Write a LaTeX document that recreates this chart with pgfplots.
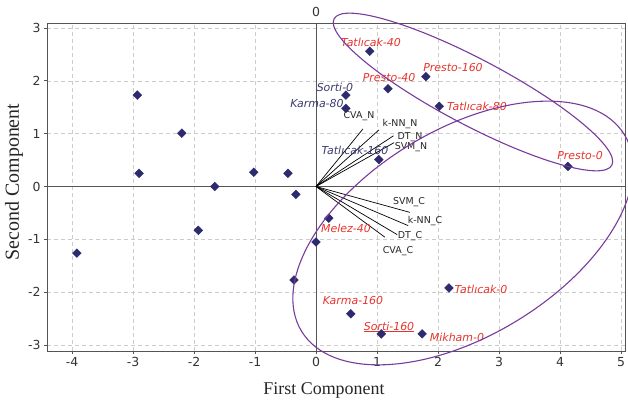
\documentclass[border=0pt]{standalone}
\usepackage{fontspec}
\setmainfont{Liberation Serif}
\newfontfamily\dv{DejaVu Sans}
\usepackage{pgfplots}
\pgfplotsset{compat=1.18}
\definecolor{navy}{RGB}{45,42,110}
\definecolor{lred}{RGB}{230,52,44}
\definecolor{lnavy}{RGB}{60,59,110}
\definecolor{epurple}{RGB}{120,58,155}
\definecolor{frame}{RGB}{85,85,85}
\begin{document}
\begin{tikzpicture}[x=1bp,y=1bp,
  lbl/.style={font=\dv\itshape\fontsize{11}{13}\selectfont, text=lred, inner sep=0pt},
  nlbl/.style={font=\dv\itshape\fontsize{11}{13}\selectfont, text=lnavy, inner sep=0pt},
  vlbl/.style={font=\dv\fontsize{9.5}{11}\selectfont, text=black!85, inner sep=0pt}]
\begin{axis}[name=ax, at={(0,0)}, anchor=south west, scale only axis,
  width=578bp, height=328bp,
  xmin=-4.41, xmax=5.066, ymin=-3.114, ymax=3.095, clip=false,
  axis line style={draw=frame, line width=0.9pt},
  grid=major, grid style={dash pattern=on 4bp off 3bp, gray!40, line width=0.6pt},
  xtick={-4,-3,...,5}, ytick={-3,-2,...,3},
  xticklabels={-4,-3,-2,-1,0,1,2,3,4,5}, yticklabels={-3,-2,-1,0,1,2,3},
  tick align=outside, major tick length=3bp, xtick pos=bottom, ytick pos=left,
  tick style={frame, line width=0.7pt},
  ticklabel style={font=\dv\fontsize{12.5}{14}\selectfont, text=black!80},
]
\draw[frame, line width=0.9pt] (axis cs:0,-3.114) -- (axis cs:0,3.095);
\draw[frame, line width=0.9pt] (axis cs:-4.41,0) -- (axis cs:5.066,0);

% loading vectors
\addplot[black, line width=0.7pt] coordinates {(0,0) (0.77,1.09)};
\addplot[black, line width=0.7pt] coordinates {(0,0) (1.03,1.07)};
\addplot[black, line width=0.7pt] coordinates {(0,0) (1.27,0.96)};
\addplot[black, line width=0.7pt] coordinates {(0,0) (1.28,0.83)};
\addplot[black, line width=0.7pt] coordinates {(0,0) (1.54,-0.49)};
\addplot[black, line width=0.7pt] coordinates {(0,0) (1.51,-0.74)};
\addplot[black, line width=0.7pt] coordinates {(0,0) (1.33,-0.91)};
\addplot[black, line width=0.7pt] coordinates {(0,0) (1.13,-0.96)};

% scores
\addplot[only marks, mark=square*, mark size=3.1bp,
  mark options={rotate=45, draw=navy, fill=navy}] coordinates {
(-2.93,1.73) (-2.20,1.01) (-2.90,0.25) (-1.66,0.00) (-1.02,0.27) (-0.46,0.25)
(-0.33,-0.15) (-3.92,-1.26) (-1.93,-0.83) (-0.36,-1.77) (0.00,-1.05)
(0.21,-0.60) (2.18,-1.92) (0.57,-2.41) (1.07,-2.79) (1.74,-2.79)
(0.88,2.56) (1.80,2.08) (1.18,1.85) (0.49,1.73) (0.49,1.48) (2.02,1.52)
(1.03,0.51) (4.13,0.38)};

\coordinate (e1) at (axis cs:2.574,1.789);
\coordinate (e2) at (axis cs:2.41,-0.880);

\node[vlbl] at (axis cs:0.705,1.334) {CVA\_N};
\node[vlbl] at (axis cs:1.377,1.183) {k-NN\_N};
\node[vlbl] at (axis cs:1.541,0.937) {DT\_N};
\node[vlbl] at (axis cs:1.557,0.748) {SVM\_N};
\node[vlbl] at (axis cs:1.525,-0.293) {SVM\_C};
\node[vlbl] at (axis cs:1.787,-0.653) {k-NN\_C};
\node[vlbl] at (axis cs:1.541,-0.937) {DT\_C};
\node[vlbl] at (axis cs:1.344,-1.22) {CVA\_C};

\node[lbl] at (axis cs:0.902,2.735) {Tatlıcak-40};
\node[lbl] at (axis cs:2.246,2.243) {Presto-160};
\node[lbl] at (axis cs:1.197,2.054) {Presto-40};
\node[nlbl] at (axis cs:0.311,1.883) {Sorti-0};
\node[nlbl] at (axis cs:0.016,1.580) {Karma-80};
\node[lbl] at (axis cs:2.639,1.524) {Tatlıcak-80};
\node[nlbl] at (axis cs:0.639,0.691) {Tatlıcak-160};
\node[lbl] at (axis cs:4.328,0.596) {Presto-0};
\node[lbl] at (axis cs:0.492,-0.786) {Melez-40};
\node[lbl] at (axis cs:2.705,-1.940) {Tatlıcak-0};
\node[lbl] at (axis cs:0.607,-2.167) {Karma-160};
\node[lbl] at (axis cs:1.197,-2.66) {\underline{Sorti-160}};
\node[lbl] at (axis cs:2.311,-2.849) {Mikham-0};

\node[font=\dv\fontsize{12.5}{14}\selectfont, text=black!80, anchor=south, inner sep=0pt] at (axis cs:0,3.095) [yshift=6bp] {0};
\end{axis}
\draw[epurple, line width=1.1pt, rotate around={-27.8:(e1)}] (e1) ellipse [x radius=157bp, y radius=33bp];
\draw[epurple, line width=1.1pt, rotate around={31.3:(e2)}] (e2) ellipse [x radius=189bp, y radius=103bp];
\node[font=\fontsize{18}{20}\selectfont, text=black!85] at (277,-39) {First Component};
\node[font=\fontsize{20}{22}\selectfont, text=black!85, rotate=90] at (-33,169) {Second Component};
\pgfresetboundingbox
\path[use as bounding box] (-47,-51) rectangle (581,351);
\end{tikzpicture}
\end{document}
